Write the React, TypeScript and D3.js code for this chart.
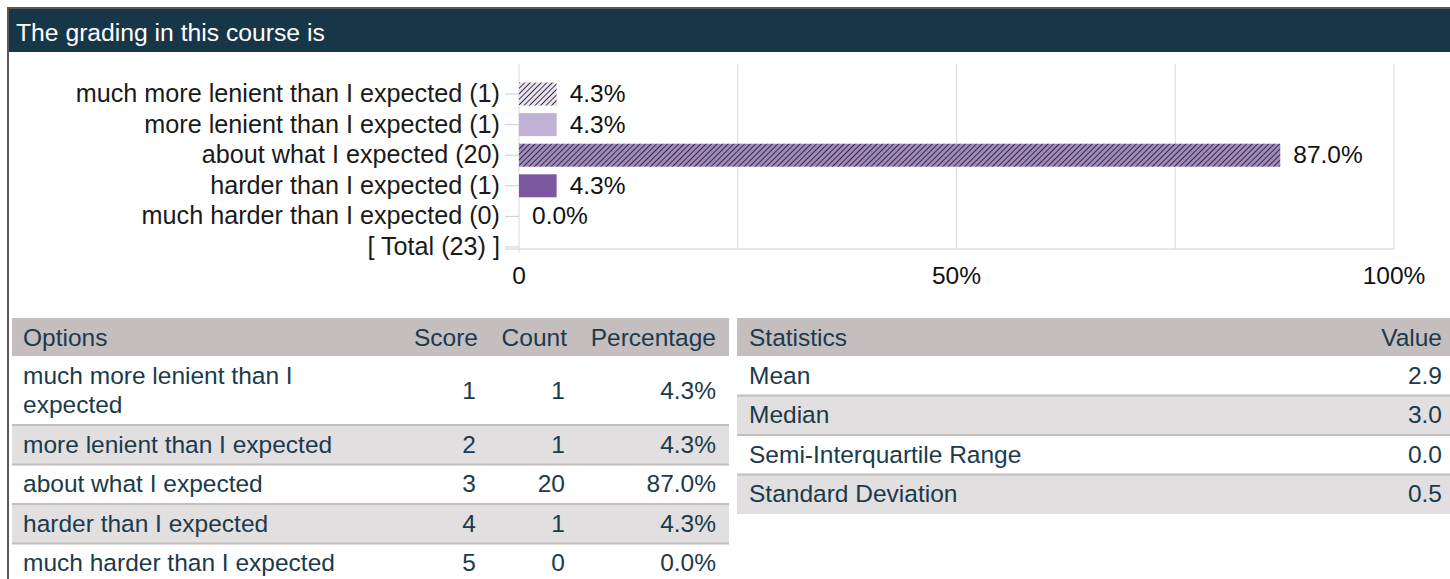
import React, { useEffect, useRef } from 'react';
import * as d3 from 'd3';

const title = 'The grading in this course is';
const options = [
  'much more lenient than I expected',
  'more lenient than I expected',
  'about what I expected',
  'harder than I expected',
  'much harder than I expected',
];
const scores = [1, 2, 3, 4, 5];
const counts = [1, 1, 20, 1, 0];
const percentages = [4.3, 4.3, 87.0, 4.3, 0.0];
const total = 23;
const xTicks = [0, 50, 100];
const xTickLabels = ['0', '50%', '100%'];
const gridTicks = [0, 25, 50, 75, 100];
const tableHeaders = ['Options', 'Score', 'Count', 'Percentage'];
const statHeaders = ['Statistics', 'Value'];
const statNames = ['Mean', 'Median', 'Semi-Interquartile Range', 'Standard Deviation'];
const statValues = ['2.9', '3.0', '0.0', '0.5'];

const W = 1450;
const H = 579;
const FONT = '"Liberation Sans", Arial, sans-serif';
const FS = 24.5;
const CFS = 25.2;

export default function App() {
  const ref = useRef<SVGSVGElement>(null);

  useEffect(() => {
    document.body.style.margin = '0';
    const svg = d3.select(ref.current);
    svg.selectAll('*').remove();
    svg.style('font-family', FONT);

    const defs = svg.append('defs');
    const hatch = (id: string, bg: string) => {
      const p = defs
        .append('pattern')
        .attr('id', id)
        .attr('patternUnits', 'userSpaceOnUse')
        .attr('width', 3.9)
        .attr('height', 3.9)
        .attr('patternTransform', 'rotate(45)');
      p.append('rect').attr('width', 3.9).attr('height', 3.9).attr('fill', bg);
      p.append('line')
        .attr('x1', 0.5)
        .attr('y1', 0)
        .attr('x2', 0.5)
        .attr('y2', 3.9)
        .attr('stroke', '#2a2036')
        .attr('stroke-width', 0.9);
    };
    hatch('hatch-light', '#e8e3ee');
    hatch('hatch-mid', '#a08bbc');
    const barFills = ['url(#hatch-light)', '#c1b2d5', 'url(#hatch-mid)', '#7b58a0', '#5e3c87'];

    // frame + header
    svg.append('rect').attr('x', 7).attr('y', 7).attr('width', W - 7).attr('height', 2).attr('fill', '#5f5755');
    svg.append('rect').attr('x', 7).attr('y', 7).attr('width', 2).attr('height', H - 7).attr('fill', '#5f5755');
    svg.append('rect').attr('x', 9).attr('y', 9).attr('width', W - 9).attr('height', 43).attr('fill', '#173648');
    svg.append('text')
      .attr('x', 16)
      .attr('y', 41)
      .attr('fill', '#fff')
      .attr('font-size', 24.7)
      .text(title);

    // chart
    const x = d3.scaleLinear().domain([0, 100]).range([519, 1394]);
    const rowLabels = options.map((o, i) => `${o} (${counts[i]})`).concat([`[ Total (${total}) ]`]);
    const y = d3.scalePoint<string>().domain(rowLabels).range([94, 247]);
    const barH = 23;
    const axisY = 249;

    const g = svg.append('g');
    g.selectAll('line.grid')
      .data(gridTicks)
      .join('line')
      .attr('x1', (d) => x(d))
      .attr('x2', (d) => x(d))
      .attr('y1', 64)
      .attr('y2', (d) => (d === 0 ? axisY + 4 : axisY))
      .attr('stroke', '#d9d9d9')
      .attr('stroke-width', 1);
    g.append('line')
      .attr('x1', 505)
      .attr('x2', x(100))
      .attr('y1', axisY)
      .attr('y2', axisY)
      .attr('stroke', '#cfcfcf');
    g.selectAll('line.tick')
      .data(rowLabels)
      .join('line')
      .attr('x1', 505)
      .attr('x2', x(0))
      .attr('y1', (d) => y(d)!)
      .attr('y2', (d) => y(d)!)
      .attr('stroke', '#cfcfcf');

    g.selectAll('text.cat')
      .data(rowLabels)
      .join('text')
      .attr('x', 500)
      .attr('y', (d) => y(d)! + 8)
      .attr('text-anchor', 'end')
      .attr('font-size', CFS)
      .attr('fill', '#1a1a1a')
      .text((d) => d);

    g.selectAll('rect.bar')
      .data(percentages)
      .join('rect')
      .attr('x', x(0))
      .attr('y', (_d, i) => y(rowLabels[i])! - barH / 2)
      .attr('width', (d) => x(d) - x(0))
      .attr('height', barH)
      .attr('fill', (_d, i) => barFills[i]);

    g.selectAll('text.val')
      .data(percentages)
      .join('text')
      .attr('x', (d) => x(d) + 13)
      .attr('y', (_d, i) => y(rowLabels[i])! + 8)
      .attr('font-size', FS)
      .attr('fill', '#111')
      .text((d) => `${d.toFixed(1)}%`);

    g.selectAll('text.xt')
      .data(xTicks)
      .join('text')
      .attr('x', (d) => x(d))
      .attr('y', 284)
      .attr('text-anchor', 'middle')
      .attr('font-size', FS)
      .attr('fill', '#111')
      .text((_d, i) => xTickLabels[i]);

    // tables
    const tc = '#1b3a4c';
    const headFill = '#c4bebe';
    const altFill = '#e1dfdf';
    const lineH = 29.5;
    const pad = 10;
    const base = 8;

    // options table
    const lx0 = 12;
    const lx1 = 729;
    const colRight = [0, 478, 567, 716];
    const t1 = svg.append('g');
    t1.append('rect').attr('x', lx0).attr('y', 318).attr('width', lx1 - lx0).attr('height', 38).attr('fill', headFill);
    tableHeaders.forEach((h, i) => {
      t1.append('text')
        .attr('x', i === 0 ? 23 : colRight[i])
        .attr('y', 345.5)
        .attr('text-anchor', i === 0 ? 'start' : 'end')
        .attr('font-size', FS)
        .attr('fill', tc)
        .text(h);
    });

    // wrap option labels
    const measure = svg.append('text').attr('font-size', FS).attr('visibility', 'hidden');
    const maxW = 360;
    const wrapped = options.map((o) => {
      const words = o.split(' ');
      const lines: string[] = [];
      let cur = '';
      words.forEach((w) => {
        const test = cur ? `${cur} ${w}` : w;
        measure.text(test);
        if ((measure.node() as SVGTextElement).getComputedTextLength() > maxW && cur) {
          lines.push(cur);
          cur = w;
        } else cur = test;
      });
      lines.push(cur);
      return lines;
    });
    measure.remove();

    let ry = 356;
    options.forEach((_o, i) => {
      const lines = wrapped[i];
      const h = lines.length * lineH + pad;
      const rowG = t1.append('g');
      rowG.append('rect')
        .attr('x', lx0)
        .attr('y', ry)
        .attr('width', lx1 - lx0)
        .attr('height', h)
        .attr('fill', i % 2 === 1 ? altFill : '#fff');
      if (i > 0) {
        rowG.append('rect').attr('x', lx0).attr('y', ry - 1).attr('width', lx1 - lx0).attr('height', 2).attr('fill', headFill);
      }
      lines.forEach((ln, k) => {
        rowG.append('text')
          .attr('x', 23)
          .attr('y', ry + pad / 2 + lineH * k + lineH / 2 + base)
          .attr('font-size', FS)
          .attr('fill', tc)
          .text(ln);
      });
      const mid = ry + h / 2 + base;
      [String(scores[i]), String(counts[i]), `${percentages[i].toFixed(1)}%`].forEach((v, k) => {
        rowG.append('text')
          .attr('x', colRight[k + 1] - (k < 2 ? 2 : 0))
          .attr('y', mid)
          .attr('text-anchor', 'end')
          .attr('font-size', FS)
          .attr('fill', tc)
          .text(v);
      });
      ry += h;
    });

    // statistics table
    const sx0 = 737;
    const sx1 = W;
    const t2 = svg.append('g');
    t2.append('rect').attr('x', sx0).attr('y', 318).attr('width', sx1 - sx0).attr('height', 38).attr('fill', headFill);
    t2.append('text').attr('x', 749).attr('y', 345.5).attr('font-size', FS).attr('fill', tc).text(statHeaders[0]);
    t2.append('text')
      .attr('x', 1442)
      .attr('y', 345.5)
      .attr('text-anchor', 'end')
      .attr('font-size', FS)
      .attr('fill', tc)
      .text(statHeaders[1]);
    let sy = 356;
    statNames.forEach((n, i) => {
      const h = lineH + pad;
      t2.append('rect')
        .attr('x', sx0)
        .attr('y', sy)
        .attr('width', sx1 - sx0)
        .attr('height', h)
        .attr('fill', i % 2 === 1 ? altFill : '#fff');
      if (i > 0) {
        t2.append('rect').attr('x', sx0).attr('y', sy - 1).attr('width', sx1 - sx0).attr('height', 2).attr('fill', headFill);
      }
      t2.append('text').attr('x', 749).attr('y', sy + h / 2 + base).attr('font-size', FS).attr('fill', tc).text(n);
      t2.append('text')
        .attr('x', 1442)
        .attr('y', sy + h / 2 + base)
        .attr('text-anchor', 'end')
        .attr('font-size', FS)
        .attr('fill', tc)
        .text(statValues[i]);
      sy += h;
    });
  }, []);

  return <svg ref={ref} width={W} height={H} style={{ display: 'block', background: '#fff' }} />;
}
